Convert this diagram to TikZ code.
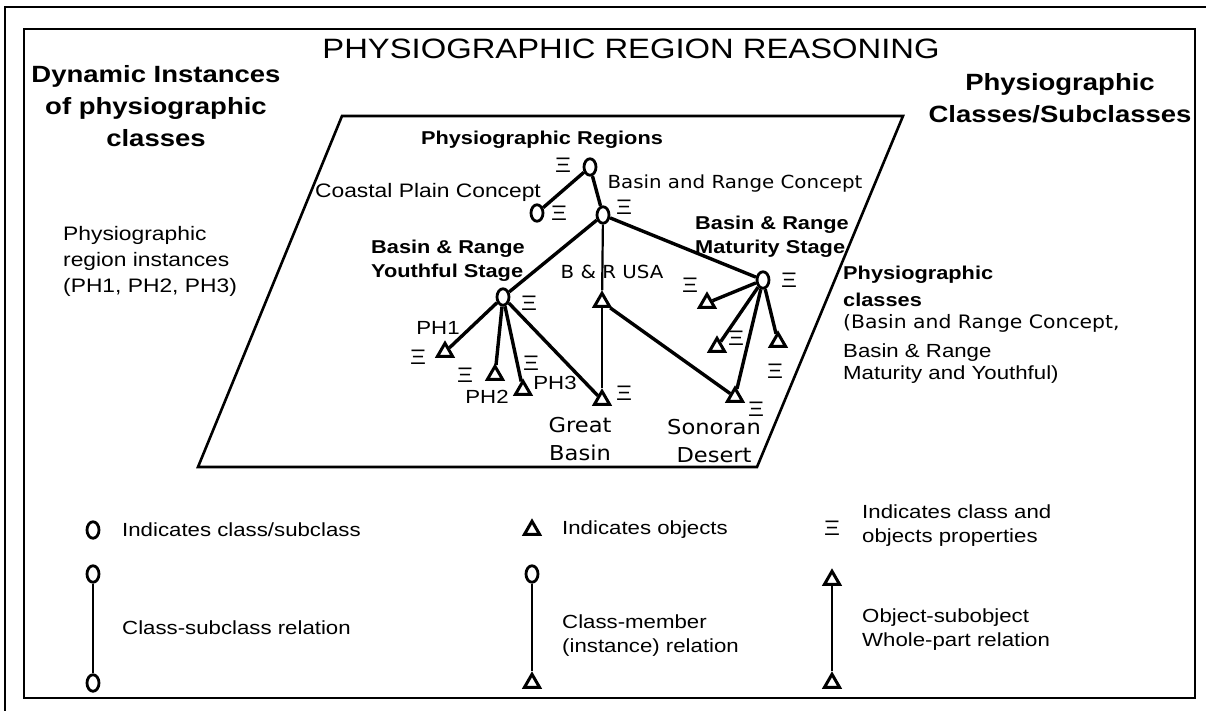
\documentclass[tikz,border=0pt]{standalone}
\usepackage{fontspec}
\setmainfont{Liberation Sans}[FakeStretch=1.17]
\newfontfamily\thinfont{DejaVu Sans}[FakeStretch=1.1]
\usetikzlibrary{shapes.geometric}

\begin{document}
\begin{tikzpicture}[x=1pt,y=-1pt,
    cls/.style={draw, ellipse, line width=2.8pt, minimum width=12pt, minimum height=16.5pt, inner sep=0pt},
    obj/.style={draw, regular polygon, regular polygon sides=3, line width=3pt, minimum size=17.5pt, inner sep=0pt},
    prop/.style={font=\fontsize{21}{21}\selectfont, inner sep=0pt},
    edge/.style={line width=3.4pt},
    heading/.style={font=\fontsize{23.5}{32}\selectfont\bfseries, align=center, inner sep=0pt},
    bold/.style={font=\fontsize{18.6}{24}\selectfont\bfseries, inner sep=0pt},
    plain/.style={font=\fontsize{19}{22}\selectfont, inner sep=0pt},
    thin/.style={font=\fontsize{18}{28}\thinfont, inner sep=0pt},
    legend/.style={font=\fontsize{19}{24}\selectfont, inner sep=0pt, align=left, anchor=west}]

    \useasboundingbox (0,0) rectangle (1206,711);
    \fill[white] (0,0) rectangle (1206,711);

    % Frames
    \draw[line width=1.8pt] (5,711) -- (5,7) -- (1206,7);
    \draw[line width=1.8pt] (24,29) rectangle (1195,698);

    % Headings
    \node[font=\fontsize{28}{30}\selectfont, inner sep=0pt] (title) at (631,49) {PHYSIOGRAPHIC REGION REASONING};
    \node[heading] (dynamic) at (156,106) {Dynamic Instances\\of physiographic\\classes};
    \node[heading] (classes) at (1060,98) {Physiographic\\Classes/Subclasses};
    \node[plain, align=left, anchor=west, font=\fontsize{19.5}{26}\selectfont] (instances) at (63,261) {Physiographic\\region instances\\(PH1, PH2, PH3)};

    % Plane of the regions
    \draw[line width=2.6pt] (342,116) -- (903,116) -- (757,467) -- (198,467) -- cycle;

    % Classes
    \node[cls] (root) at (590,167) {};
    \node[cls] (coast) at (537,213) {};
    \node[cls] (brc) at (603,215) {};
    \node[cls] (young) at (503,297) {};
    \node[cls] (mature) at (763,280) {};

    % Objects
    \node[obj] (usa) at (602,302) {};
    \node[obj] (ph1) at (445,352) {};
    \node[obj] (ph2) at (495,375) {};
    \node[obj] (ph3) at (523,390) {};
    \node[obj] (great) at (602,400) {};
    \node[obj] (sonoran) at (735,397) {};
    \node[obj] (mat1) at (707,303) {};
    \node[obj] (mat2) at (717,347) {};
    \node[obj] (mat3) at (778,342) {};

    % Properties
    \node[prop] (root_p) at (563,165) {Ξ};
    \node[prop] (coast_p) at (559,213) {Ξ};
    \node[prop] (brc_p) at (624,207) {Ξ};
    \node[prop] (young_p) at (529,303) {Ξ};
    \node[prop] (mature_p) at (789,280) {Ξ};
    \node[prop] (ph1_p) at (418,357) {Ξ};
    \node[prop] (ph2_p) at (465,375) {Ξ};
    \node[prop] (ph3_p) at (531,363) {Ξ};
    \node[prop] (great_p) at (624,393) {Ξ};
    \node[prop] (sonoran_p) at (756,409) {Ξ};
    \node[prop] (mat1_p) at (690,285) {Ξ};
    \node[prop] (mat2_p) at (736,338) {Ξ};
    \node[prop] (mat3_p) at (775,371) {Ξ};

    % Relations
    \draw[edge] (root) -- (coast);
    \draw[edge] (root) -- (brc);
    \draw[edge] (brc) -- (young);
    \draw[edge] (brc) -- (mature);
    \draw[line width=2.2pt] (brc) -- (usa);
    \draw[line width=2.2pt] (usa) -- (great);
    \draw[edge] (usa) -- (sonoran);
    \draw[edge] (young) -- (ph1);
    \draw[edge] (young) -- (ph2);
    \draw[edge] (young) -- (ph3);
    \draw[edge] (young) -- (great);
    \draw[edge] (mature) -- (mat1);
    \draw[edge] (mature) -- (mat2);
    \draw[edge] (mature) -- (mat3);
    \draw[edge] (mature) -- (sonoran);

    % Labels in the plane
    \node[bold] (regions) at (542,140) {Physiographic Regions};
    \node[plain, font=\fontsize{19.5}{22}\selectfont] (coast_l) at (428,192) {Coastal Plain Concept};
    \node[thin] (brc_l) at (735,184) {Basin and Range Concept};
    \node[bold, align=left, anchor=west] (mature_l) at (695,237) {Basin \& Range\\Maturity Stage};
    \node[bold, align=left, anchor=west] (young_l) at (371,261) {Basin \& Range\\Youthful Stage};
    \node[thin] (usa_l) at (612,272) {B \& R USA};
    \node[plain] (ph1_l) at (438,328) {PH1};
    \node[plain] (ph2_l) at (487,397) {PH2};
    \node[plain] (ph3_l) at (555,383) {PH3};
    \node[thin, font=\fontsize{20.5}{28}\thinfont, align=center] (great_l) at (580,439) {Great\\Basin};
    \node[thin, font=\fontsize{20.5}{28}\thinfont, align=center] (sonoran_l) at (714,441) {Sonoran\\Desert};

    % Right hand notes
    \node[bold, align=left, anchor=west, font=\fontsize{18.6}{27}\selectfont\bfseries] (pclass) at (843,286) {Physiographic\\classes};
    \node[thin, anchor=west, font=\fontsize{18.5}{22}\thinfont] (pclass_a) at (843,323) {(Basin and Range Concept,};
    \node[plain, align=left, anchor=west] (pclass_b) at (843,364) {Basin \& Range\\Maturity and Youthful)};

    % Legend
    \node[cls] (key_cls) at (93,530) {};
    \node[legend] (key_cls_t) at (122,530) {Indicates class/subclass};
    \node[obj] (key_obj) at (532,530) {};
    \node[legend] (key_obj_t) at (562,530) {Indicates objects};
    \node[prop] (key_prop) at (832,528) {Ξ};
    \node[legend] (key_prop_t) at (862,526) {Indicates class and\\objects properties};

    \node[cls] (sub_a) at (93,574) {};
    \node[cls] (sub_b) at (93,683) {};
    \draw[line width=2.2pt] (sub_a) -- (sub_b);
    \node[legend] (sub_t) at (122,628) {Class-subclass relation};

    \node[cls] (mem_a) at (532,574) {};
    \node[obj] (mem_b) at (532,683) {};
    \draw[line width=2.2pt] (mem_a) -- (mem_b);
    \node[legend] (mem_t) at (562,636) {Class-member\\(instance) relation};

    \node[obj] (part_a) at (832,580) {};
    \node[obj] (part_b) at (832,683) {};
    \draw[line width=2.2pt] (part_b) -- (part_a);
    \node[legend] (part_t) at (862,630) {Object-subobject\\Whole-part relation};

\end{tikzpicture}
\end{document}
